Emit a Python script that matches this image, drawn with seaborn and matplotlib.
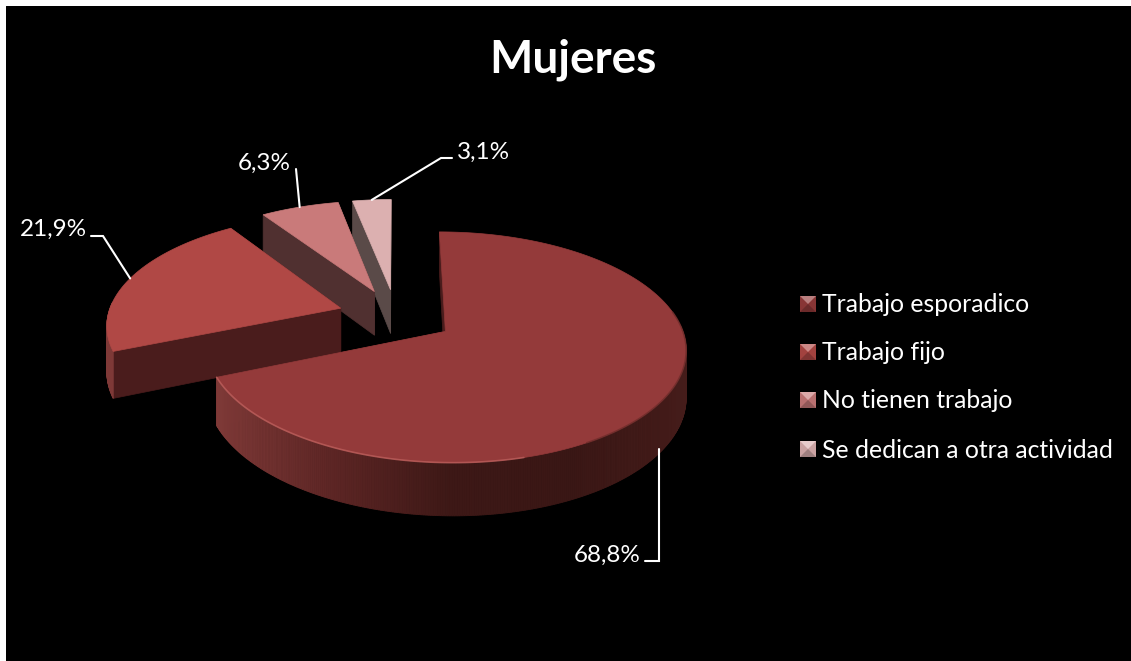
import numpy as np
import seaborn as sns
import matplotlib.pyplot as plt
from matplotlib.colors import to_rgb

categories = ["Trabajo esporadico", "Trabajo fijo", "No tienen trabajo", "Se dedican a otra actividad"]
shares = [68.8, 21.9, 6.3, 3.1]
value_labels = ["68,8%", "21,9%", "6,3%", "3,1%"]
top_colors = ["#943a3a", "#b04845", "#c97a7a", "#dcb0b0"]
face_colors = ["#4a1c1c", "#4a1c1c", "#503030", "#5a4a48"]

sns.set_theme(style="white")
plt.rcParams["font.family"] = ["Lato", "DejaVu Sans"]

# projection of the tilted pie onto the picture (pixels)
CX, CY, RX, RY, PERSP = 396, 316, 233, 109, 0.135
DEPTH, EXPLODE = 45, 0.25


def project(u, v, low=False):
    w = 1 - PERSP * v
    return CX + RX * u / w, CY + RY * v / w + (DEPTH / w if low else 0)


def rim(theta, mid):
    off_u, off_v = EXPLODE * np.sin(mid), -EXPLODE * np.cos(mid)
    return off_u + np.sin(theta), off_v - np.cos(theta)


def apex(mid):
    return EXPLODE * np.sin(mid), -EXPLODE * np.cos(mid)


wall_cmap = sns.blend_palette(["#7e3937", "#5c2524", "#3d1816", "#3a1715", "#451c1a"], as_cmap=True)

fig = plt.figure(figsize=(11.31, 6.61), dpi=100, facecolor="white")
ax = fig.add_axes([6 / 1131, 0, 1125 / 1131, 655 / 661], facecolor="black")
ax.set_xlim(6, 1131)
ax.set_ylim(661, 6)
ax.axis("off")
ax.add_patch(plt.Rectangle((6, 6), 1125, 655, color="black", zorder=0))

edges = np.deg2rad(np.concatenate([[0], np.cumsum(shares) / np.sum(shares) * 360]))
mids = (edges[:-1] + edges[1:]) / 2

# back to front so nearer slices cover the others
for i in [3, 2, 1, 0]:
    a, b, mid = edges[i], edges[i + 1], mids[i]
    thetas = np.linspace(a, b, max(int(np.degrees(b - a) * 2), 12))
    au, av = apex(mid)
    # cut faces
    for t in [b, a]:
        ru, rv = rim(t, mid)
        p1, p2 = project(au, av), project(ru, rv)
        p3, p4 = project(ru, rv, True), project(au, av, True)
        ax.fill(*zip(p1, p2, p3, p4), color=face_colors[i], lw=0.5)
    # outer wall, shaded in strips, only the part facing the viewer
    for t0, t1 in zip(thetas[:-1], thetas[1:]):
        if np.cos(t0) > 0.05:
            continue
        q0, q1 = rim(t0, mid), rim(t1, mid)
        pts = [project(*q0), project(*q1), project(*q1, True), project(*q0, True)]
        shade = np.clip((pts[0][0] - 218) / 470, 0, 1)
        ax.fill(*zip(*pts), color=wall_cmap(shade), lw=0.6)
    # top face
    outline = [project(au, av)] + [project(*rim(t, mid)) for t in thetas]
    ax.fill(*zip(*outline), color=top_colors[i], lw=0.5)
    if i == 0:
        lit = np.linspace(np.deg2rad(165), b, 80)
        lx, ly = zip(*[project(*rim(t, mid)) for t in lit])
        ax.plot(lx, ly, color="#c0625f", lw=1.2, alpha=0.75)
        shaded = np.linspace(np.deg2rad(80), np.deg2rad(150), 60)
        sx, sy = zip(*[project(*rim(t, mid)) for t in shaded])
        ax.plot(sx, sy, color="#6d2c2a", lw=1.2, alpha=0.7)

# value labels with leader lines
elbows = [[(659, 561), (645, 561)], [(103, 236), (91, 236)], [(296, 169)], [(441, 158), (452, 158)]]
label_xy = [(641, 555), (87, 229), (291, 163), (457, 152)]
label_ha = ["right", "right", "right", "left"]
for i in range(4):
    start = project(*rim(mids[i], mids[i]), i == 0)
    if i == 0:
        start = (elbows[0][0][0], start[1])
    path = [start] + elbows[i]
    ax.plot(*zip(*path), color="white", lw=1.5, solid_joinstyle="miter")
    ax.text(*label_xy[i], value_labels[i], color="white", fontsize=17.5, ha=label_ha[i], va="center")

ax.text(573, 60, "Mujeres", color="white", fontsize=33, fontweight="bold", ha="center", va="center")

# legend with pyramid swatches
legend_y = [304, 352, 400, 449]
for name, col, y in zip(categories, top_colors, legend_y):
    rgb = np.array(to_rgb(col))
    x0, x1, y0, y1 = 800, 816, y - 8, y + 8
    xc = (x0 + x1) / 2
    ax.fill([x0, x1, x1, x0], [y0, y0, y1, y1], color=rgb * 0.92, lw=0)
    ax.fill([x0, x1, xc], [y0, y0, y], color=rgb + (1 - rgb) * 0.35, lw=0)
    ax.fill([x0, x1, xc], [y1, y1, y], color=rgb * 0.72, lw=0)
    ax.text(822, y + 1, name, color="white", fontsize=17.8, ha="left", va="center")

fig.savefig("out.png", dpi=100, facecolor="white")
